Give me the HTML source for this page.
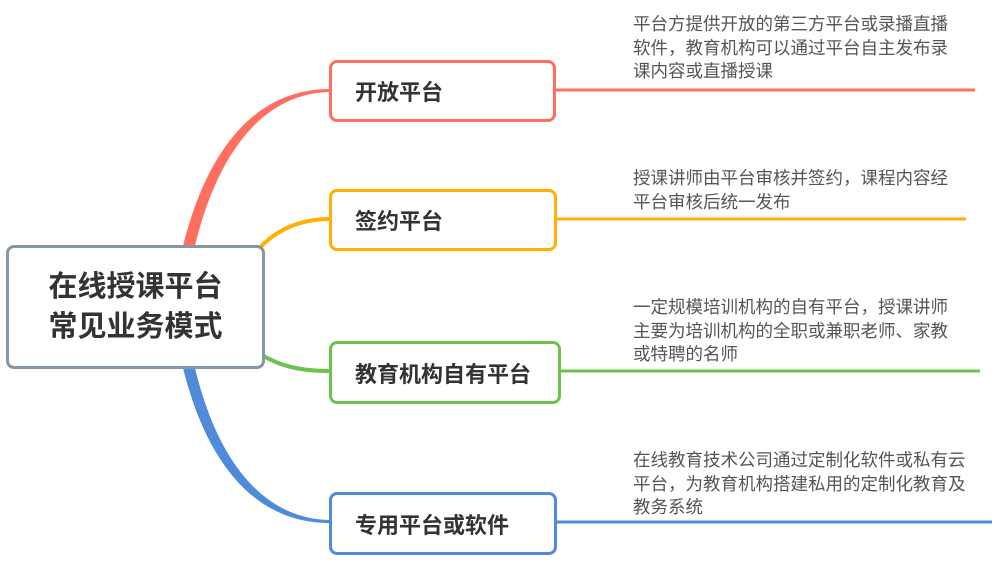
<!DOCTYPE html>
<html><head><meta charset="utf-8"><style>
body{margin:0;width:999px;height:573px;background:#fff;position:relative;overflow:hidden;font-family:"Liberation Sans","Noto Sans CJK SC",sans-serif}
.b{position:absolute;box-sizing:border-box;border:3px solid;border-radius:8px;background:#fff;font-weight:bold;font-size:22px;color:#333;padding-left:23px;display:flex;align-items:center}
.t{position:absolute;font-size:17.5px;line-height:23.5px;color:#555;white-space:nowrap}
</style></head><body>
<svg width="999" height="573" style="position:absolute;left:0;top:0">
<path d="M182 250 C206 150 255 89 330 89 L330 92 C262 93 216 155 194 250 Z" fill="#ff6e5e"/>
<path d="M258 250 C275 230 300 219 330 219" stroke="#ffb000" stroke-width="4" fill="none"/>
<path d="M262 355 C280 366 300 371 330 371" stroke="#6cc24a" stroke-width="4" fill="none"/>
<path d="M182 364 C206 464 255 523 330 523 L330 520 C262 519 216 459 194 364 Z" fill="#4f8bd9"/>
<line x1="555" y1="90" x2="975" y2="90" stroke="#ff6e5e" stroke-width="3"/>
<line x1="555" y1="219" x2="966" y2="219" stroke="#ffb000" stroke-width="3"/>
<line x1="558" y1="371" x2="980" y2="371" stroke="#6cc24a" stroke-width="3"/>
<line x1="555" y1="522" x2="992" y2="522" stroke="#4f8bd9" stroke-width="3"/>
</svg>
<div class="b" style="left:6px;top:245px;width:259px;height:124px;border-color:#8795a8;justify-content:center;padding:0;font-size:29px;line-height:40px;text-align:center">在线授课平台<br>常见业务模式</div>
<div class="b" style="left:329px;top:60px;width:227px;height:62px;border-color:#ff6e5e">开放平台</div>
<div class="b" style="left:329px;top:189px;width:228px;height:62px;border-color:#ffb000">签约平台</div>
<div class="b" style="left:329px;top:341px;width:232px;height:63px;border-color:#6cc24a">教育机构自有平台</div>
<div class="b" style="left:329px;top:492px;width:228px;height:63px;border-color:#4f8bd9">专用平台或软件</div>
<div class="t" style="left:633px;top:13px">平台方提供开放的第三方平台或录播直播<br>软件，教育机构可以通过平台自主发布录<br>课内容或直播授课</div>
<div class="t" style="left:633px;top:167px">授课讲师由平台审核并签约，课程内容经<br>平台审核后统一发布</div>
<div class="t" style="left:633px;top:296px">一定规模培训机构的自有平台，授课讲师<br>主要为培训机构的全职或兼职老师、家教<br>或特聘的名师</div>
<div class="t" style="left:633px;top:449px">在线教育技术公司通过定制化软件或私有云<br>平台，为教育机构搭建私用的定制化教育及<br>教务系统</div>
</body></html>
